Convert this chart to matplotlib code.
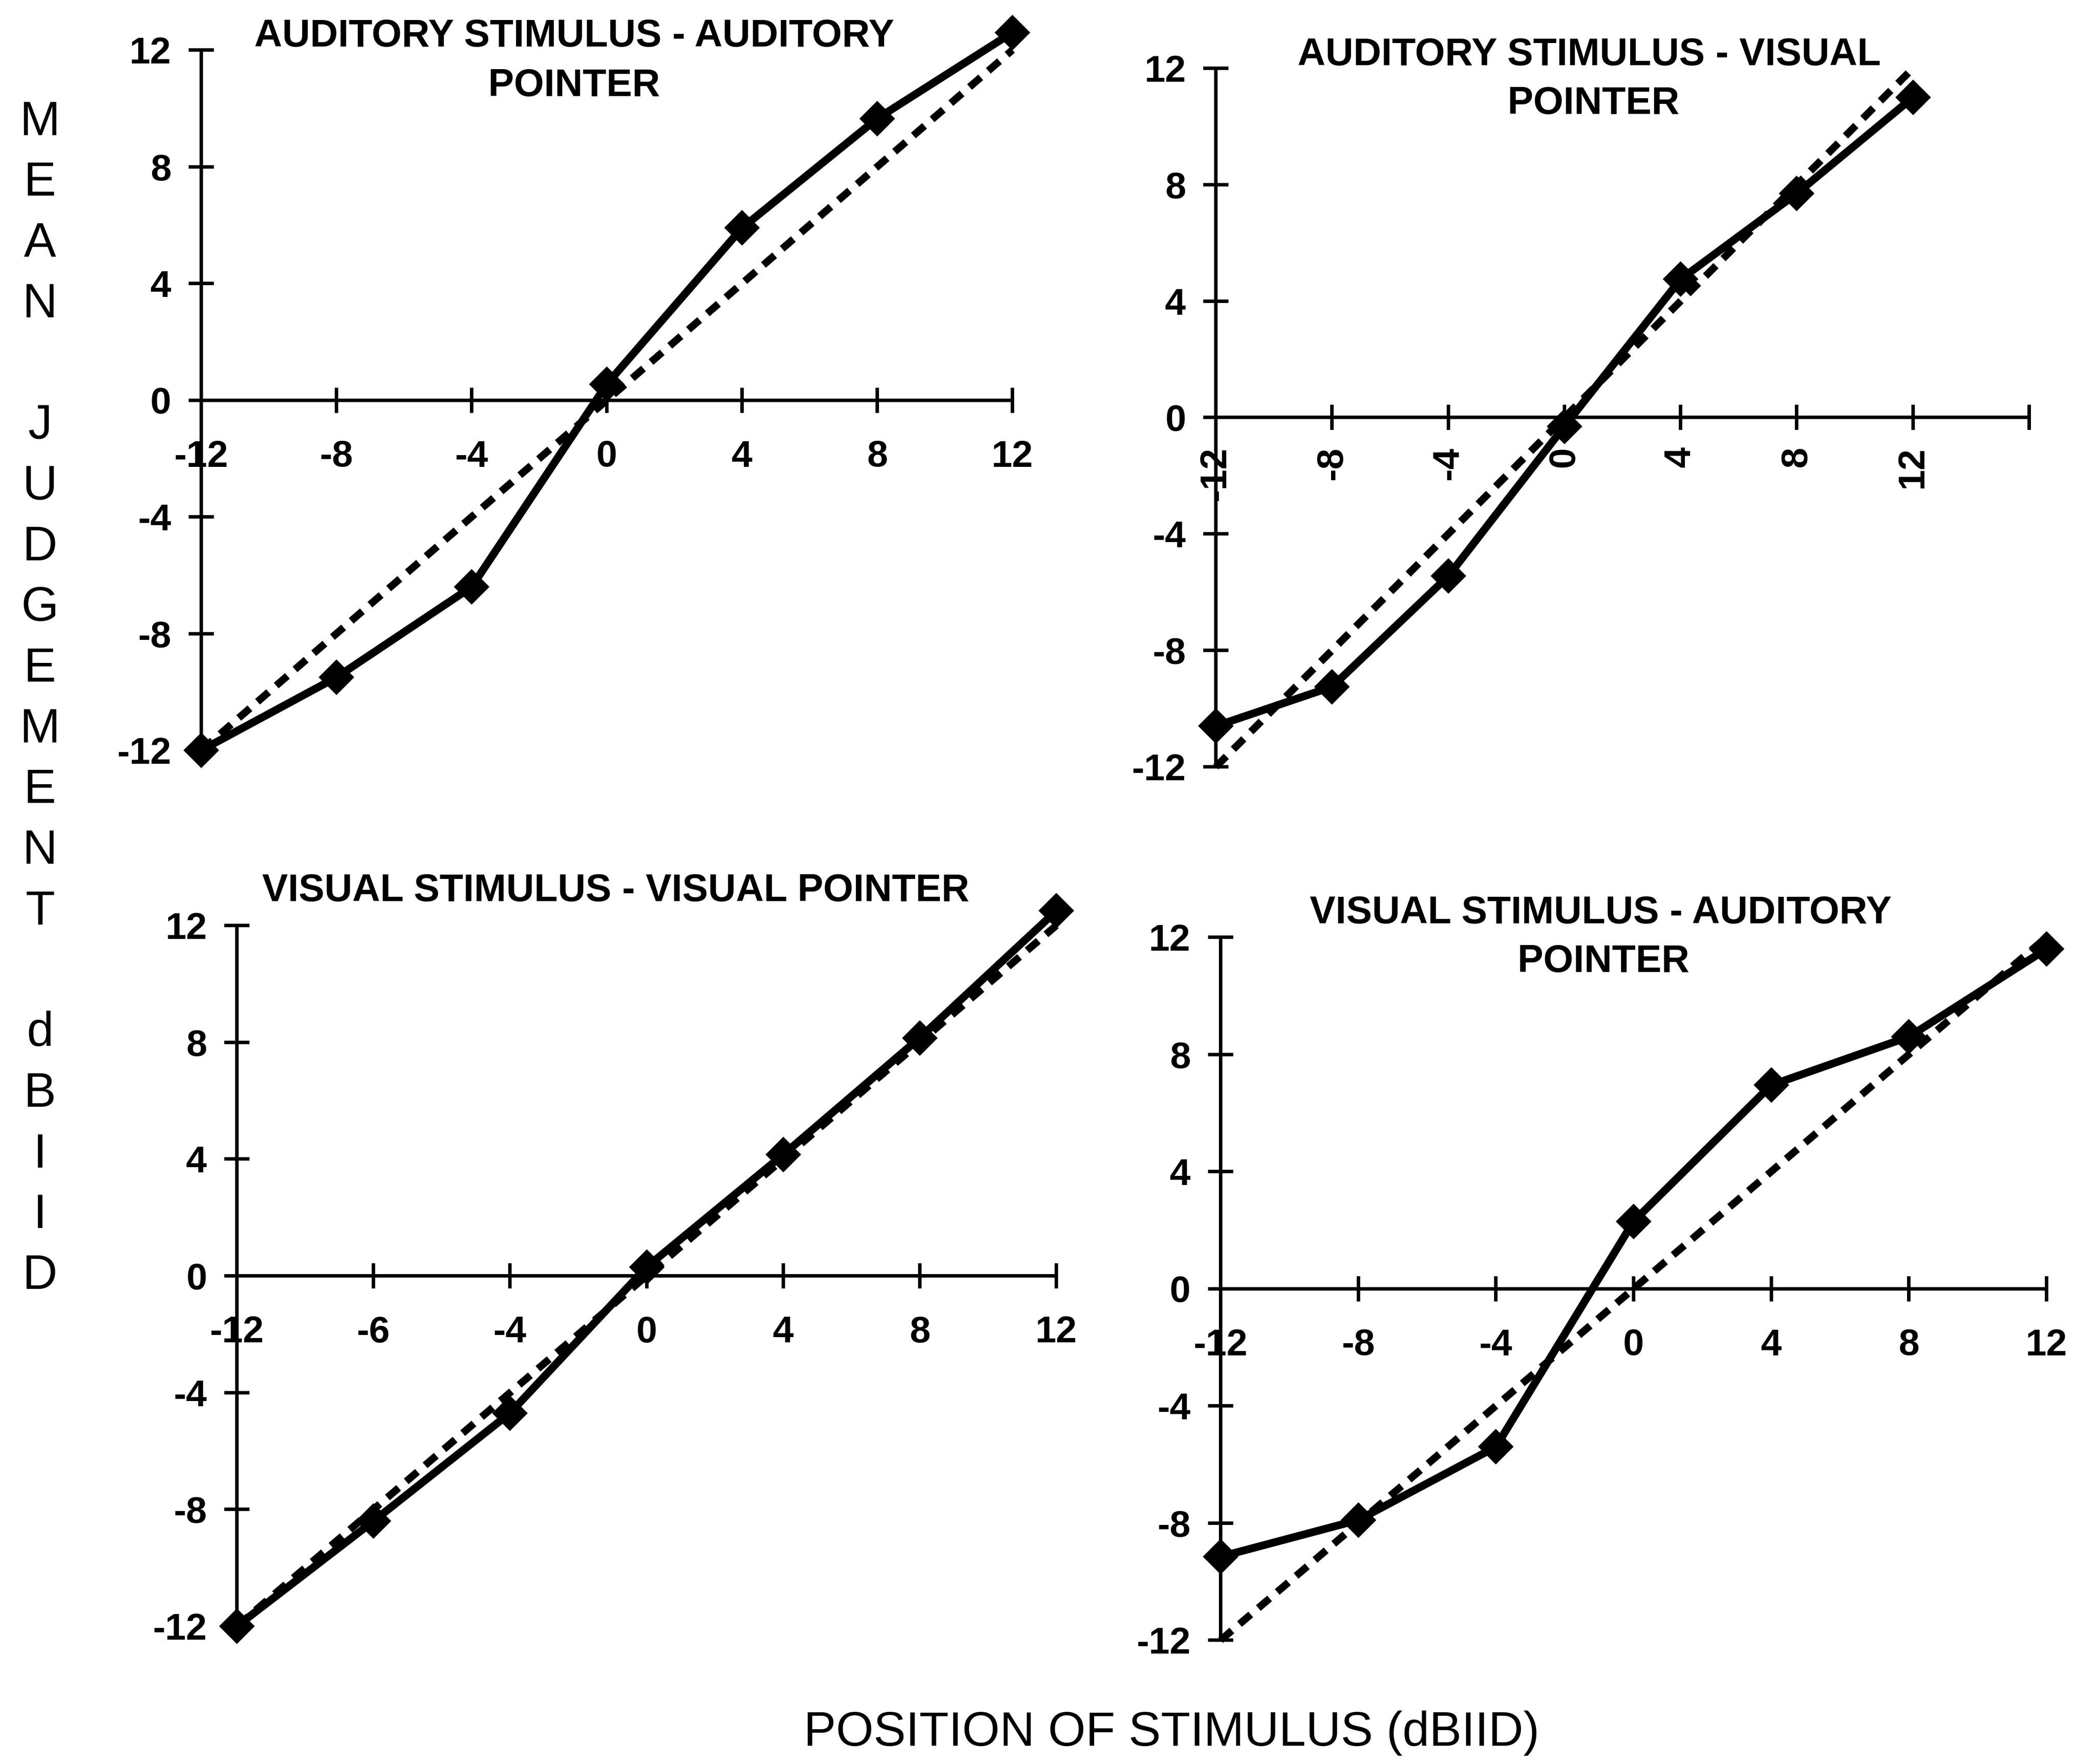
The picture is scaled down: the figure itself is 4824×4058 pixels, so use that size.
import matplotlib
matplotlib.use('Agg')
import matplotlib.pyplot as plt

W, H = 4824, 4058
plt.rcParams['font.family'] = ['Liberation Sans', 'DejaVu Sans']

# ---------------- data ----------------
stimulus_positions = [-12, -8, -4, 0, 4, 8, 12]
aud_stim_aud_pointer = [-12.0, -9.5, -6.4, 0.55, 5.9, 9.65, 12.6]
aud_stim_vis_pointer = [-10.6, -9.25, -5.45, -0.3, 4.75, 7.7, 11.0]
vis_stim_vis_pointer = [-12.0, -8.4, -4.7, 0.3, 4.15, 8.15, 12.5]
vis_stim_aud_pointer = [-9.15, -7.9, -5.4, 2.3, 6.95, 8.6, 11.6]
reference_x = [-12, 12]
reference_y = [-12, 12]

y_ticks = [-12, -8, -4, 0, 4, 8, 12]
y_tick_labels = ['-12', '-8', '-4', '0', '4', '8', '12']
x_ticks = [-12, -8, -4, 0, 4, 8, 12]
x_tick_labels = ['-12', '-8', '-4', '0', '4', '8', '12']
x_ticks_av = [-12, -8, -4, 0, 4, 8, 12, 16]
x_tick_labels_av = ['-12', '-8', '-4', '0', '4', '8', '12', '']
x_tick_labels_vv = ['-12', '-6', '-4', '0', '4', '8', '12']

titles = {
    'aa': ['AUDITORY STIMULUS - AUDITORY', 'POINTER'],
    'av': ['AUDITORY STIMULUS - VISUAL', 'POINTER'],
    'vv': ['VISUAL STIMULUS - VISUAL POINTER'],
    'va': ['VISUAL STIMULUS - AUDITORY', 'POINTER'],
}
y_label = 'MEAN JUDGEMENT dBIID'
x_label = 'POSITION OF STIMULUS (dBIID)'

# ---------------- layout (pixels) ----------------
fig = plt.figure(figsize=(W / 100, H / 100), dpi=100)
fig.patch.set_facecolor('white')

def rect(l, r, t, b):
    return [l / W, 1 - b / H, (r - l) / W, (b - t) / H]

panels = [
    ('aa', rect(463, 2329, 115, 1726), aud_stim_aud_pointer, (-12, 12), x_ticks, x_tick_labels, 0,
     [(1321, 75), (1321, 189)]),
    ('av', rect(2797, 4668, 157, 1764), aud_stim_vis_pointer, (-12, 16), x_ticks_av, x_tick_labels_av, 90,
     [(3656, 118), (3666, 230)]),
    ('vv', rect(545, 2430, 2129, 3741), vis_stim_vis_pointer, (-12, 12), x_ticks, x_tick_labels_vv, 0,
     [(1416, 2041)]),
    ('va', rect(2808, 4708, 2156, 3773), vis_stim_aud_pointer, (-12, 12), x_ticks, x_tick_labels, 0,
     [(3682, 2092), (3689, 2204)]),
]

px = 72 / 100.0  # points per pixel
lw_axis = 8 * px
tick_len = 58 * px
tick_fs = 62
title_fs = 64

for key, r, vals, xlim, xt, xtl, rot, tcenters in panels:
    ax = fig.add_axes(r)
    ax.set_xlim(*xlim)
    ax.set_ylim(-12, 12)
    ax.patch.set_alpha(0)
    for s in ['top', 'right']:
        ax.spines[s].set_visible(False)
    ax.spines['bottom'].set_position(('data', 0))
    ax.spines['left'].set_linewidth(lw_axis)
    ax.spines['bottom'].set_linewidth(lw_axis)
    ax.set_yticks(y_ticks)
    ax.set_yticklabels(y_tick_labels, fontsize=tick_fs, fontweight='bold')
    ax.set_xticks(xt)
    ax.set_xticklabels(xtl, fontsize=tick_fs, fontweight='bold', rotation=rot)
    ax.tick_params(axis='both', direction='inout', length=tick_len, width=lw_axis)
    ax.tick_params(axis='y', pad=40 * px)
    if rot:
        ax.tick_params(axis='x', pad=38 * px)
    else:
        ax.tick_params(axis='x', pad=62 * px)

    ax.plot(reference_x, reference_y, color='black', lw=17 * px, linestyle=(0, (2.0, 1.35)),
            dash_capstyle='butt', clip_on=False, zorder=3)
    ax.plot(stimulus_positions, vals, color='black', lw=18 * px, marker='D', markersize=42,
            markeredgewidth=0, clip_on=False, zorder=4, solid_joinstyle='miter')

    lines = titles[key]
    cap_h = title_fs / px * 0.716
    for (cx, cy), line in zip(tcenters, lines):
        fig.text(cx / W, 1 - (cy + cap_h / 2) / H, line, ha='center', va='baseline',
                 fontsize=title_fs, fontweight='bold')

# vertical stacked y label
lab_fs = 80
cap_h = lab_fs / px * 0.716
y0, step = 271, 139.7
for i, ch in enumerate(y_label):
    if ch == ' ':
        continue
    cy = y0 + i * step
    fig.text(92 / W, 1 - (cy + cap_h / 2) / H, ch, ha='center', va='baseline', fontsize=lab_fs)

fig.text(2695 / W, 1 - (3976 + cap_h / 2) / H, x_label, ha='center', va='baseline', fontsize=lab_fs)

fig.savefig('out.png', dpi=100, facecolor='white')
